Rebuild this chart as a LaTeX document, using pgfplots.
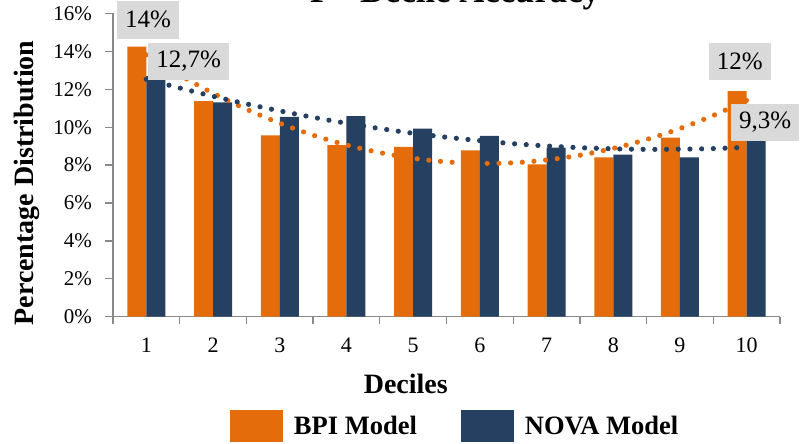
\documentclass[border=0pt]{standalone}
\usepackage{pgfplots}
\pgfplotsset{compat=1.18}
\usepackage{fontspec}
\setmainfont{Liberation Serif}

\definecolor{bpi}{HTML}{E46C0A}
\definecolor{nova}{HTML}{254061}
\definecolor{axisgray}{HTML}{898989}
\definecolor{boxgray}{HTML}{D9D9D9}
\newcommand{\fs}[1]{\fontsize{#1}{#1}\selectfont}

\begin{document}
\begin{tikzpicture}[x=1pt,y=1pt]
\begin{axis}[
  at={(113pt,127.3pt)}, anchor=south west,
  scale only axis, width=667pt, height=303.2pt,
  xmin=0.5, xmax=10.5, ymin=0, ymax=16,
  clip=false,
  axis x line*=bottom, axis y line*=left,
  axis line style={axisgray, line width=1.3pt, -},
  tick style={axisgray, line width=1.3pt},
  tick align=outside,
  major tick length=7.5pt,
  xtick={0.5,1.5,...,10.5}, xticklabels={},
  extra x ticks={1,...,10},
  extra x tick labels={1,2,3,4,5,6,7,8,9,10},
  extra x tick style={major tick length=0pt},
  xticklabel style={font=\fs{22}, anchor=base, yshift=-36pt},
  ytick={0,2,...,16},
  yticklabels={0\%,2\%,4\%,6\%,8\%,10\%,12\%,14\%,16\%},
  yticklabel style={font=\fs{21}, anchor=east, xshift=-10pt},
  ylabel={Percentage Distribution},
  ylabel style={at={(axis description cs:-0.1297,0.441)}, anchor=center, font=\bfseries\fs{28}},
  xlabel={Deciles},
  xlabel style={at={(axis description cs:0.439,-0.2526)}, anchor=base, font=\bfseries\fs{28}},
  legend columns=2,
  legend style={at={(axis description cs:0.1754,-0.4123)}, anchor=south west,
    draw=none, inner sep=0pt, outer sep=0pt, font=\bfseries\fs{26.5},
    /tikz/every odd column/.append style={column sep=9pt},
    /tikz/every even column/.append style={column sep=42pt}},
  legend image code/.code={\fill[#1] (0pt,-16pt) rectangle (53pt,16pt);},
]
% decile shares of each model
\addplot[ybar, bar width=19pt, bar shift=-9.5pt, fill=bpi, draw=none]
  coordinates {(1,14.25) (2,11.37) (3,9.57) (4,9.06) (5,8.96) (6,8.78) (7,8.04) (8,8.41) (9,9.45) (10,11.9)};
\addlegendentry{BPI Model}
\addplot[ybar, bar width=19pt, bar shift=9.5pt, fill=nova, draw=none]
  coordinates {(1,12.7) (2,11.31) (3,10.54) (4,10.58) (5,9.92) (6,9.54) (7,8.92) (8,8.55) (9,8.41) (10,9.3)};
\addlegendentry{NOVA Model}

% dotted trend curves
\addplot[forget plot, smooth, bpi, line width=5.2pt, line cap=round, dash pattern=on 0pt off 11.7pt]
  coordinates {(1,13.82) (1.5,12.75) (2,11.79) (2.5,10.95) (3,10.21) (3.5,9.58) (4,9.06) (4.5,8.66)
    (5,8.36) (5.5,8.17) (6,8.09) (6.5,8.12) (7,8.27) (7.5,8.52) (8,8.88) (8.5,9.35) (9,9.93) (9.5,10.62) (10,11.42)};
\addplot[forget plot, smooth, nova, line width=5.2pt, line cap=round, dash pattern=on 0pt off 11.7pt]
  coordinates {(1,12.53) (1.5,12.07) (2,11.63) (2.5,11.23) (3,10.86) (3.5,10.52) (4,10.21) (4.5,9.93)
    (5,9.68) (5.5,9.47) (6,9.29) (6.5,9.13) (7,9.01) (7.5,8.92) (8,8.86) (8.5,8.83) (9,8.84) (9.5,8.87) (10,8.94)};

% value callouts
\tikzset{callout/.style={fill=boxgray, font=\fs{25}, minimum height=37.5pt, inner xsep=8pt, inner ysep=0pt, anchor=center}}
\node[callout] at (axis cs:1.025,15.67) {14\%};
\node[callout] at (axis cs:1.633,13.48) {12,7\%};
\node[callout] at (axis cs:9.898,13.48) {12\%};
\node[callout] at (axis cs:10.277,10.26) {9,3\%};
\end{axis}
\node[anchor=base, font=\bfseries\fs{34.7}] at (455,441) {P - Decile Accuracy};
\pgfresetboundingbox
\path[use as bounding box] (0,0) rectangle (804,444);
\end{tikzpicture}
\end{document}
